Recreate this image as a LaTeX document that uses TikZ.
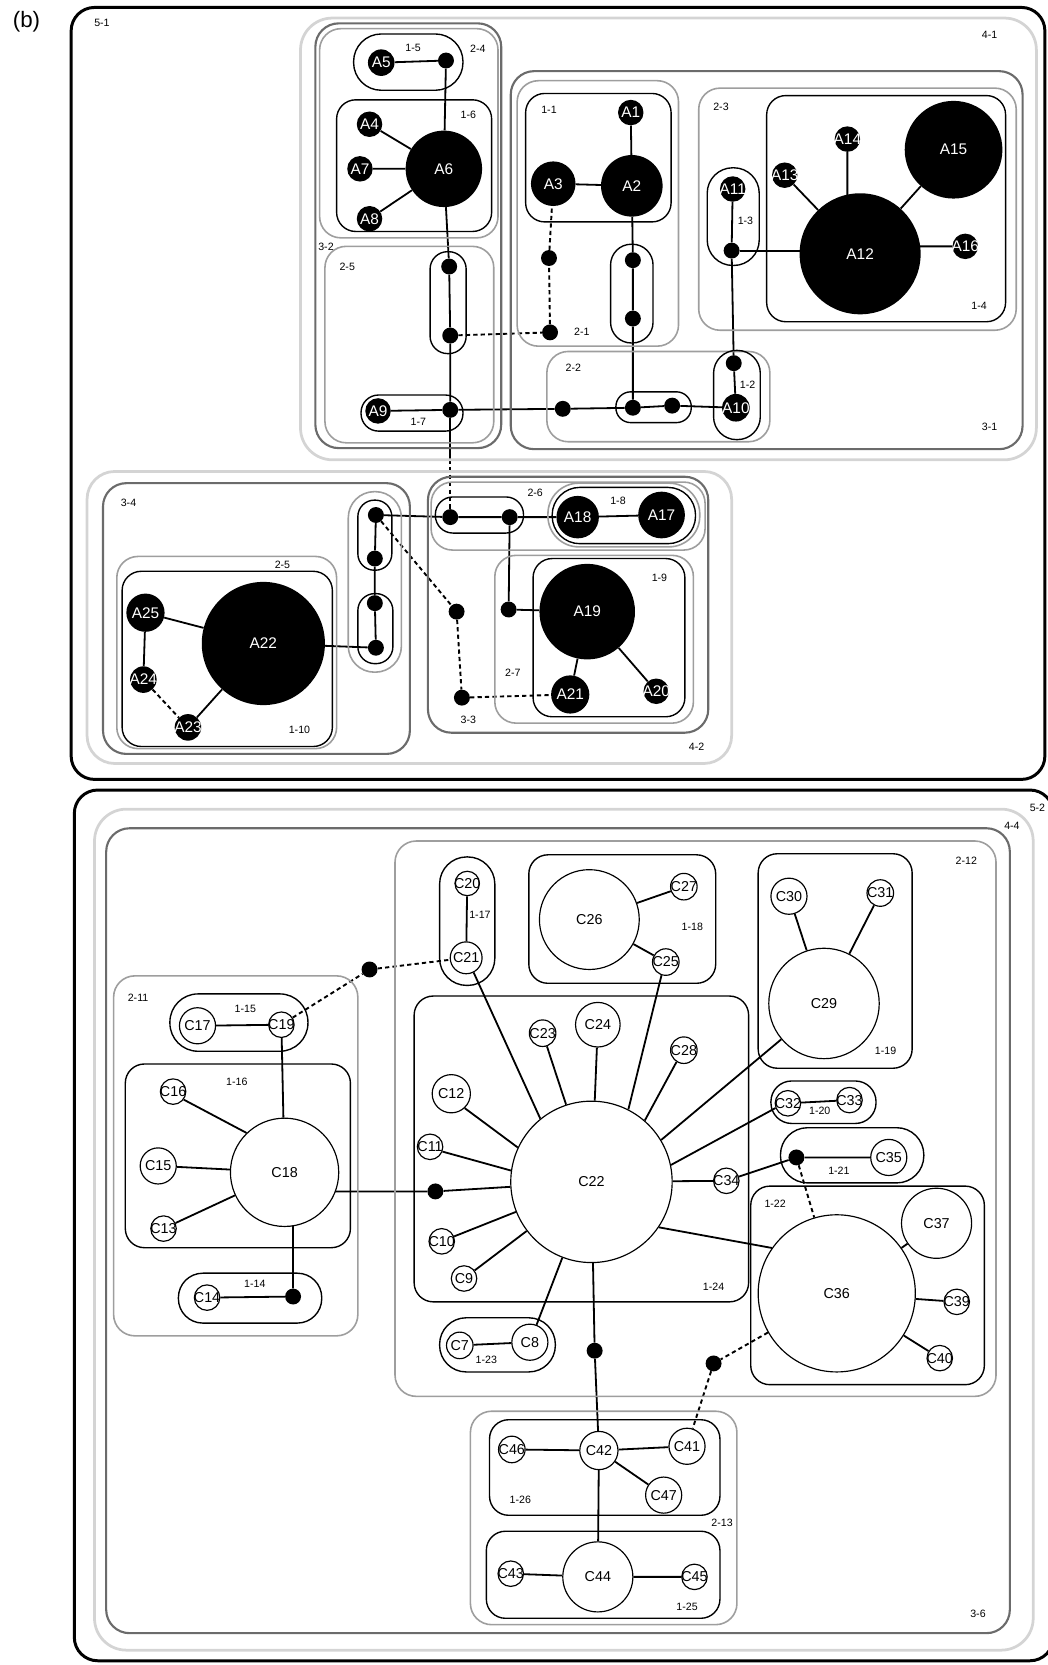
\documentclass[tikz,border=0pt]{standalone}
\usepackage{fontspec}
\setmainfont{Liberation Sans}
\usetikzlibrary{backgrounds}
\newcommand{\ntxt}[1]{\makebox[0pt]{#1}}
\tikzset{
  lvl1/.style={draw=black,line width=1.3pt,rounded corners=18pt},
  lvl2/.style={draw=black!38,line width=1.5pt,rounded corners=20pt},
  lvl3/.style={draw=black!58,line width=2pt,rounded corners=22pt},
  lvl4/.style={draw=black!17,line width=2.6pt,rounded corners=26pt},
  lvl5/.style={draw=black,line width=2.8pt,rounded corners=22pt},
  glabel/.style={font=\fontsize{10}{10}\selectfont,inner sep=0pt},
  anode/.style={circle,fill=black,text=white,inner sep=0pt,minimum size=#1pt,font=\fontsize{14.5}{14.5}\selectfont},
  cnode/.style={circle,draw=black,line width=1.1pt,fill=white,inner sep=0pt,minimum size=#1pt,font=\fontsize{13.5}{13.5}\selectfont},
  jdot/.style={circle,fill=black,inner sep=0pt,minimum size=15pt},
  link/.style={line width=1.7pt},
  weak/.style={line width=1.8pt,dash pattern=on 4pt off 3pt},
}

\begin{document}
\begin{tikzpicture}[x=1pt,y=-1pt]
\useasboundingbox (0,0) rectangle (986,1568);
\node[font=\fontsize{21}{21}\selectfont,inner sep=0pt] (tag) at (25,20) {(b)};

% ---------- upper network: groups
\draw[lvl5] (67,7) rectangle (984,734);
\draw[lvl4,rounded corners=30pt] (283,17) rectangle (976,433);
\draw[lvl3] (297,22) rectangle (472,422);
\draw[lvl2] (301,27) rectangle (469,224);
\draw[lvl1,rounded corners=26pt] (333,32) rectangle (436,85);
\draw[lvl1] (317,94) rectangle (463,218);
\draw[lvl2] (306,232) rectangle (465,417);
\draw[lvl1,rounded corners=16.5pt] (405,237) rectangle (439,333);
\draw[lvl1,rounded corners=16.5pt] (340,372) rectangle (436,406);
\draw[lvl3] (481,67) rectangle (963,423);
\draw[lvl2] (487,76) rectangle (639,326);
\draw[lvl1] (495,88) rectangle (632,209);
\draw[lvl1,rounded corners=19.5pt] (575,230) rectangle (615,323);
\draw[lvl2] (515,331) rectangle (725,416);
\draw[lvl1,rounded corners=14pt] (580,369) rectangle (651,398);
\draw[lvl1,rounded corners=21.5pt] (672,330) rectangle (716,414);
\draw[lvl2] (658,83) rectangle (957,311);
\draw[lvl1] (722,90) rectangle (947,303);
\draw[lvl1,rounded corners=24pt] (666,158) rectangle (715,250);
\draw[lvl4] (82,444) rectangle (689,719);
\draw[lvl3] (97,455) rectangle (386,710);
\draw[lvl2] (110,524) rectangle (317,705);
\draw[lvl1] (115,538) rectangle (313,703);
\draw[lvl2,rounded corners=24.5pt] (328,463) rectangle (378,633);
\draw[lvl1,rounded corners=15.5pt] (337,471) rectangle (369,537);
\draw[lvl1,rounded corners=16pt] (337,559) rectangle (370,625);
\draw[lvl3] (403,449) rectangle (667,690);
\draw[lvl2] (406,454) rectangle (664,518);
\draw[lvl1,rounded corners=16.5pt] (410,468) rectangle (493,502);
\draw[lvl2,rounded corners=29pt] (516,455) rectangle (659,515);
\draw[lvl1,rounded corners=26pt] (520,459) rectangle (655,512);
\draw[lvl2] (466,523) rectangle (653,681);
\draw[lvl1] (502,526) rectangle (645,675);

\node[glabel] (l51) at (96,22) {5-1};
\node[glabel] (l41) at (932,33) {4-1};
\node[glabel] (l32) at (307,232) {3-2};
\node[glabel] (l24) at (450,46) {2-4};
\node[glabel] (l15) at (389,45) {1-5};
\node[glabel] (l16) at (441,108) {1-6};
\node[glabel] (l25a) at (327,251) {2-5};
\node[glabel] (l17) at (394,397) {1-7};
\node[glabel] (l31) at (932,402) {3-1};
\node[glabel] (l21) at (548,312) {2-1};
\node[glabel] (l11) at (517,103) {1-1};
\node[glabel] (l22) at (540,346) {2-2};
\node[glabel] (l12) at (704,362) {1-2};
\node[glabel] (l23) at (679,101) {2-3};
\node[glabel] (l14) at (922,288) {1-4};
\node[glabel] (l13) at (702,208) {1-3};
\node[glabel] (l42) at (656,703) {4-2};
\node[glabel] (l34) at (121,474) {3-4};
\node[glabel] (l25b) at (266,532) {2-5};
\node[glabel] (l110) at (282,687) {1-10};
\node[glabel] (l33) at (441,678) {3-3};
\node[glabel] (l26) at (504,464) {2-6};
\node[glabel] (l18) at (582,472) {1-8};
\node[glabel] (l27) at (483,634) {2-7};
\node[glabel] (l19) at (621,544) {1-9};

% ---------- upper network: vertices
\node[anode=24] (A1) at (594,106) {\ntxt{A1}};
\node[anode=58] (A2) at (595,175) {\ntxt{A2}};
\node[anode=42] (A3) at (521,173) {\ntxt{A3}};
\node[anode=24] (A4) at (348,117) {\ntxt{A4}};
\node[anode=25] (A5) at (359,59) {\ntxt{A5}};
\node[anode=72] (A6) at (418,159) {\ntxt{A6}};
\node[anode=24] (A7) at (339,159) {\ntxt{A7}};
\node[anode=24] (A8) at (348,206) {\ntxt{A8}};
\node[anode=24] (A9) at (356,387) {\ntxt{A9}};
\node[anode=26] (A10) at (693,384) {\ntxt{A10}};
\node[anode=24] (A11) at (690,178) {\ntxt{A11}};
\node[anode=114] (A12) at (810,239) {\ntxt{A12}};
\node[anode=24] (A13) at (739,165) {\ntxt{A13}};
\node[anode=24] (A14) at (798,131) {\ntxt{A14}};
\node[anode=92] (A15) at (898,141) {\ntxt{A15}};
\node[anode=24] (A16) at (909,232) {\ntxt{A16}};
\node[anode=44] (A17) at (623,485) {\ntxt{A17}};
\node[anode=40] (A18) at (544,487) {\ntxt{A18}};
\node[anode=90] (A19) at (553,576) {\ntxt{A19}};
\node[anode=24] (A20) at (618,651) {\ntxt{A20}};
\node[anode=36] (A21) at (537,654) {\ntxt{A21}};
\node[anode=116] (A22) at (248,606) {\ntxt{A22}};
\node[anode=25] (A23) at (177,685) {\ntxt{A23}};
\node[anode=25] (A24) at (135,640) {\ntxt{A24}};
\node[anode=36] (A25) at (137,577) {\ntxt{A25}};

\node[jdot] (j15) at (420,57) {};
\node[jdot] (j25a) at (423,251) {};
\node[jdot] (j25b) at (424,316) {};
\node[jdot] (j17) at (424,386) {};
\node[jdot] (j21a) at (517,243) {};
\node[jdot] (j21b) at (518,313) {};
\node[jdot] (s1) at (596,245) {};
\node[jdot] (s2) at (596,300) {};
\node[jdot] (j22) at (530,385) {};
\node[jdot] (r1) at (596,384) {};
\node[jdot] (r2) at (633,382) {};
\node[jdot] (j12) at (691,342) {};
\node[jdot] (j13) at (689,236) {};
\node[jdot] (j26a) at (424,487) {};
\node[jdot] (j26b) at (480,487) {};
\node[jdot] (j27) at (479,574) {};
\node[jdot] (j34a) at (354,485) {};
\node[jdot] (j34b) at (353,526) {};
\node[jdot] (j34c) at (353,568) {};
\node[jdot] (j34d) at (354,610) {};
\node[jdot] (e1) at (430,576) {};
\node[jdot] (e2) at (435,657) {};
\coordinate (brk) at (424,433);

% ---------- lower network: groups
\draw[lvl5] (70,744) rectangle (992,1564);
\draw[lvl4,rounded corners=30pt] (89,762) rectangle (973,1554);
\draw[lvl3] (100,780) rectangle (951,1538);
\draw[lvl2] (372,792) rectangle (938,1315);
\draw[lvl2] (107,919) rectangle (337,1258);
\draw[lvl2] (443,1329) rectangle (694,1530);
\draw[lvl1,rounded corners=26.5pt] (160,936) rectangle (290,990);
\draw[lvl1] (118,1002) rectangle (330,1175);
\draw[lvl1,rounded corners=23pt] (168,1199) rectangle (303,1246);
\draw[lvl1,rounded corners=25.5pt] (414,807) rectangle (466,928);
\draw[lvl1] (498,805) rectangle (674,926);
\draw[lvl1] (714,804) rectangle (859,1006);
\draw[lvl1] (390,938) rectangle (705,1226);
\draw[lvl1,rounded corners=19.5pt] (726,1018) rectangle (825,1058);
\draw[lvl1,rounded corners=25.5pt] (735,1062) rectangle (870,1114);
\draw[lvl1] (707,1117) rectangle (927,1304);
\draw[lvl1,rounded corners=25pt] (414,1241) rectangle (523,1292);
\draw[lvl1] (461,1337) rectangle (678,1427);
\draw[lvl1] (458,1442) rectangle (678,1524);

\node[glabel] (l52) at (977,761) {5-2};
\node[glabel] (l44) at (953,778) {4-4};
\node[glabel] (l36) at (921,1520) {3-6};
\node[glabel] (l212) at (910,811) {2-12};
\node[glabel] (l211) at (130,940) {2-11};
\node[glabel] (l213) at (680,1434) {2-13};
\node[glabel] (l115) at (231,950) {1-15};
\node[glabel] (l116) at (223,1019) {1-16};
\node[glabel] (l114) at (240,1209) {1-14};
\node[glabel] (l117) at (452,862) {1-17};
\node[glabel] (l118) at (652,873) {1-18};
\node[glabel] (l119) at (834,990) {1-19};
\node[glabel] (l124) at (672,1212) {1-24};
\node[glabel] (l120) at (772,1046) {1-20};
\node[glabel] (l121) at (790,1103) {1-21};
\node[glabel] (l122) at (730,1134) {1-22};
\node[glabel] (l123) at (458,1281) {1-23};
\node[glabel] (l126) at (490,1412) {1-26};
\node[glabel] (l125) at (647,1513) {1-25};

% ---------- lower network: vertices
\node[cnode=25] (C7) at (433,1267) {\ntxt{C7}};
\node[cnode=34] (C8) at (499,1264) {\ntxt{C8}};
\node[cnode=24] (C9) at (437,1204) {\ntxt{C9}};
\node[cnode=24] (C10) at (416,1169) {\ntxt{C10}};
\node[cnode=24] (C11) at (405,1080) {\ntxt{C11}};
\node[cnode=36] (C12) at (425,1030) {\ntxt{C12}};
\node[cnode=24] (C13) at (154,1157) {\ntxt{C13}};
\node[cnode=24] (C14) at (195,1222) {\ntxt{C14}};
\node[cnode=34] (C15) at (149,1098) {\ntxt{C15}};
\node[cnode=24] (C16) at (163,1028) {\ntxt{C16}};
\node[cnode=34] (C17) at (186,966) {\ntxt{C17}};
\node[cnode=102] (C18) at (268,1104) {\ntxt{C18}};
\node[cnode=24] (C19) at (265,965) {\ntxt{C19}};
\node[cnode=23] (C20) at (440,832) {\ntxt{C20}};
\node[cnode=30] (C21) at (439,902) {\ntxt{C21}};
\node[cnode=152] (C22) at (557,1113) {\ntxt{C22}};
\node[cnode=25] (C23) at (511,973) {\ntxt{C23}};
\node[cnode=42] (C24) at (563,965) {\ntxt{C24}};
\node[cnode=25] (C25) at (627,906) {\ntxt{C25}};
\node[cnode=94] (C26) at (555,866) {\ntxt{C26}};
\node[cnode=25] (C27) at (644,835) {\ntxt{C27}};
\node[cnode=25] (C28) at (644,989) {\ntxt{C28}};
\node[cnode=104] (C29) at (776,945) {\ntxt{C29}};
\node[cnode=34] (C30) at (743,844) {\ntxt{C30}};
\node[cnode=25] (C31) at (829,841) {\ntxt{C31}};
\node[cnode=24] (C32) at (742,1039) {\ntxt{C32}};
\node[cnode=24] (C33) at (800,1036) {\ntxt{C33}};
\node[cnode=24] (C34) at (684,1112) {\ntxt{C34}};
\node[cnode=34] (C35) at (837,1090) {\ntxt{C35}};
\node[cnode=148] (C36) at (788,1218) {\ntxt{C36}};
\node[cnode=66] (C37) at (882,1152) {\ntxt{C37}};
\node[cnode=24] (C39) at (901,1226) {\ntxt{C39}};
\node[cnode=24] (C40) at (885,1279) {\ntxt{C40}};
\node[cnode=34] (C41) at (647,1362) {\ntxt{C41}};
\node[cnode=36] (C42) at (564,1366) {\ntxt{C42}};
\node[cnode=24] (C43) at (481,1482) {\ntxt{C43}};
\node[cnode=66] (C44) at (563,1485) {\ntxt{C44}};
\node[cnode=24] (C45) at (654,1485) {\ntxt{C45}};
\node[cnode=25] (C46) at (482,1365) {\ntxt{C46}};
\node[cnode=34] (C47) at (625,1408) {\ntxt{C47}};

\node[jdot] (f1) at (348,913) {};
\node[jdot] (g1) at (410,1122) {};
\node[jdot] (h1) at (276,1221) {};
\node[jdot] (k1) at (750,1090) {};
\node[jdot] (m1) at (560,1272) {};
\node[jdot] (n1) at (672,1284) {};

% ---------- edges, behind the vertices
\begin{pgfonlayer}{background}
\draw[link] (A5) -- (j15) -- (A6);
\draw[link] (A4) -- (A6) (A7) -- (A6) (A8) -- (A6);
\draw[link] (A6) -- (j25a) -- (j25b) -- (j17);
\draw[link] (A9) -- (j17);
\draw[link] (j17) -- (brk);
\draw[weak] (brk) -- (j26a);
\draw[weak] (j25b) -- (j21b) -- (j21a) -- (A3);
\draw[link] (A3) -- (A2) (A1) -- (A2);
\draw[link] (A2) -- (s1) -- (s2) -- (r1);
\draw[link] (j17) -- (j22) -- (r1) -- (r2) -- (A10);
\draw[link] (A10) -- (j12) -- (j13) -- (A11);
\draw[link] (j13) -- (j13 -| A12);
\draw[link] (A13) -- (A12) (A14) -- (A14 |- A12) (A15) -- (A12) (A16) -- (A16 -| A12);
\draw[link] (j34a) -- (j26a) -- (j26b) -- (A18) -- (A17);
\draw[link] (j26b) -- (j27) -- (A19);
\draw[link] (A19) -- (A21) (A19) -- (A20);
\draw[link] (j34a) -- (j34b) -- (j34c) -- (j34d) -- (A22);
\draw[weak] (j34a) -- (e1) -- (e2) -- (A21);
\draw[link] (A22) -- (A25) -- (A24) (A23) -- (A22);
\draw[weak] (A24) -- (A23);

\draw[link] (C17) -- (C19) -- (C18);
\draw[weak] (C19) -- (f1) -- (C21);
\draw[link] (C16.-37) -- (C18.134) (C15) -- (C18) (C13) -- (C18);
\draw[link] (g1 -| C18) -- (g1) -- (C22);
\draw[link] (C14) -- (h1) -- (h1 |- C18);
\draw[link] (C20) -- (C21) (C21.-63) -- (C22.129);
\draw[link] (C27) -- (C26) -- (C25) (C25.-108) -- (C22.63);
\draw[link] (C30) -- (C29) (C31) -- (C29) (C29.-140) -- (C22.31);
\draw[link] (C23) -- (C22) (C24) -- (C22) (C28.-122) -- (C22.49);
\draw[link] (C12.-47) -- (C22.155) (C11.-21) -- (C22.172) (C10) -- (C22) (C9) -- (C22);
\draw[link] (C33) -- (C32) (C32.-159) -- (C22.12);
\draw[link] (C22) -- (C34) -- (k1) -- (C35);
\draw[weak] (k1) -- (C36);
\draw[link] (C22.-34) -- (C36.145);
\draw[link] (C37) -- (C36) (C39) -- (C36) (C40) -- (C36);
\draw[link] (C7) -- (C8) -- (C22);
\draw[link] (C22) -- (m1) -- (C42) -- (C44);
\draw[weak] (C36) -- (n1) -- (C41);
\draw[link] (C46) -- (C42) -- (C41) (C42) -- (C47) (C43) -- (C44) -- (C45);
\end{pgfonlayer}
\end{tikzpicture}
\end{document}
